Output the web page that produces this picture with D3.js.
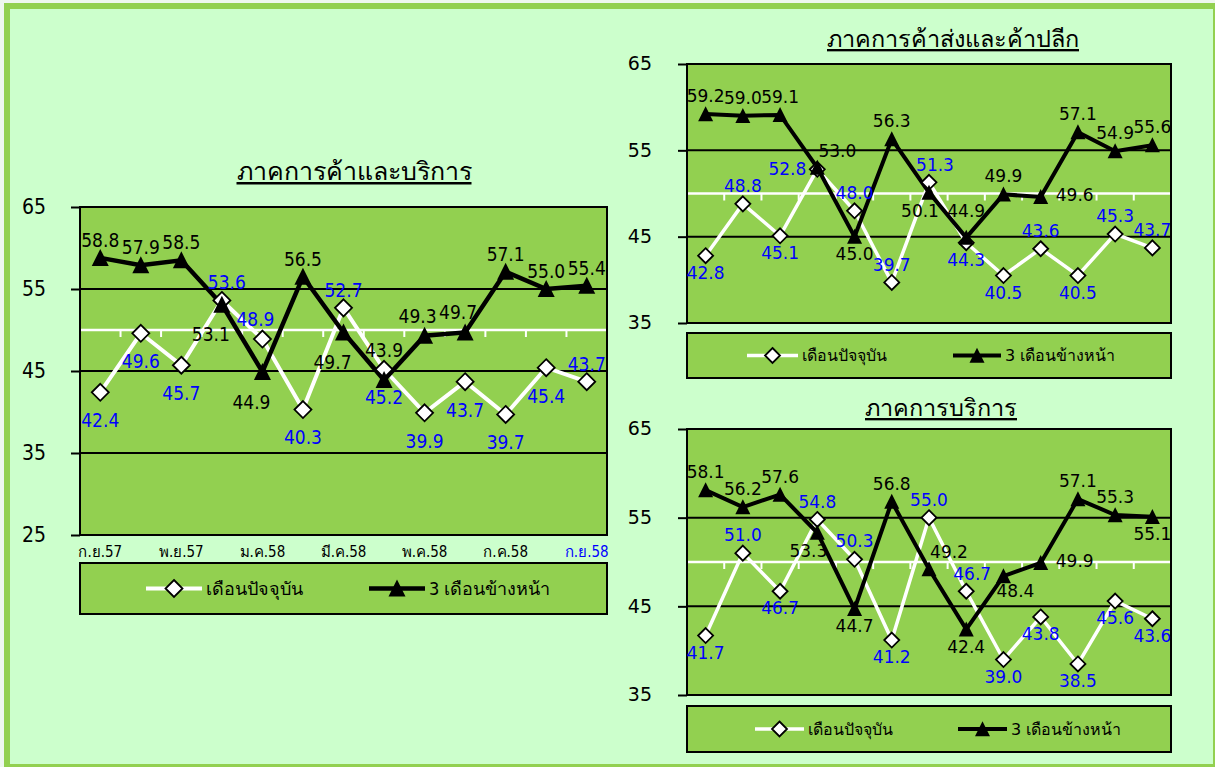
<!DOCTYPE html>
<html>
<head>
<meta charset="utf-8">
<script src="https://cdn.jsdelivr.net/npm/d3@7"></script>
<style>
  body { margin: 0; background: #eef7ee; }
  svg { display: block; }
</style>
</head>
<body>
<svg id="chart" width="1215" height="767"></svg>
<script>
// months Sep 57 .. Sep 58 (Thai short names)
const months = ['ก.ย.57', 'ต.ค.57', 'พ.ย.57', 'ธ.ค.57', 'ม.ค.58', 'ก.พ.58', 'มี.ค.58',
  'เม.ย.58', 'พ.ค.58', 'มิ.ย.58', 'ก.ค.58', 'ส.ค.58', 'ก.ย.58'];
const shownMonths = ['ก.ย.57', 'พ.ย.57', 'ม.ค.58', 'มี.ค.58', 'พ.ค.58', 'ก.ค.58', 'ก.ย.58'];
const seriesNames = ['เดือนปัจจุบัน', '3 เดือนข้างหน้า'];

// ภาคการค้าและบริการ
const tradeServiceNow = [42.4, 49.6, 45.7, 53.6, 48.9, 40.3, 52.7, 45.2, 39.9, 43.7, 39.7, 45.4, 43.7];
const tradeServiceAhead = [58.8, 57.9, 58.5, 53.1, 44.9, 56.5, 49.7, 43.9, 49.3, 49.7, 57.1, 55.0, 55.4];
const tradeServiceTicks = [25, 35, 45, 55, 65];

// ภาคการค้าส่งและค้าปลีก
const wholesaleNow = [42.8, 48.8, 45.1, 52.8, 48.0, 39.7, 51.3, 44.3, 40.5, 43.6, 40.5, 45.3, 43.7];
const wholesaleAhead = [59.2, 59.0, 59.1, 53.0, 45.0, 56.3, 50.1, 44.9, 49.9, 49.6, 57.1, 54.9, 55.6];

// ภาคการบริการ
const serviceNow = [41.7, 51.0, 46.7, 54.8, 50.3, 41.2, 55.0, 46.7, 39.0, 43.8, 38.5, 45.6, 43.6];
const serviceAhead = [58.1, 56.2, 57.6, 53.3, 44.7, 56.8, 49.2, 42.4, 48.4, 49.9, 57.1, 55.3, 55.1];
const rightTicks = [35, 45, 55, 65];

// where each data label sits relative to its marker
const tradeServiceNowPos = ['b', 'b', 'b', 'ar', 'al', 'b', 'a', 'b', 'b', 'b', 'b', 'b', 'a'];
const tradeServiceAheadPos = ['a', 'a', 'a', 'bl', 'bl', 'a', 'bl', 'aa', 'al', 'al', 'a', 'a', 'a'];
const wholesaleNowPos = ['b', 'a', 'b', 'l', 'a', 'a', 'ar', 'b', 'b', 'a', 'b', 'a', 'a'];
const wholesaleAheadPos = ['a', 'a', 'a', 'ar2', 'b', 'a', 'bl', 'aa', 'a', 'r', 'a', 'a', 'a'];
const serviceNowPos = ['b', 'a', 'b', 'a', 'a', 'b', 'a', 'ar', 'b', 'b', 'b', 'b', 'b'];
const serviceAheadPos = ['a', 'a', 'a', 'bl', 'b', 'a', 'ar2', 'b', 'br', 'r', 'a', 'a', 'b'];

const svg = d3.select('#chart');
const PLOT_FILL = '#92d050';

// background + frame
svg.append('rect')
  .attr('x', 7).attr('y', 6).attr('width', 1209).attr('height', 761)
  .attr('fill', '#ccffcc').attr('stroke', '#92d050').attr('stroke-width', 6);

const trianglePath = (s) => `M0,${-s * 1.05}L${s},${s * 0.95}L${-s},${s * 0.95}Z`;

const drawPanel = (cfg) => {
  let g = svg.append('g');
  let { x0, x1, y0, y1 } = cfg;

  let x = d3.scaleBand().domain(months).range([x0, x1]);
  let y = d3.scaleLinear().domain(cfg.domain).range([y1, y0]);
  let cx = (d) => x(d) + x.bandwidth() / 2;

  // title
  g.append('text')
    .attr('x', cfg.titleX).attr('y', cfg.titleY)
    .attr('text-anchor', 'middle')
    .attr('font-family', cfg.font)
    .attr('font-size', cfg.titleSize)
    .attr('text-decoration', 'underline')
    .attr('fill', '#000')
    .text(cfg.title);

  // plot area
  g.append('rect')
    .attr('x', x0).attr('y', y0).attr('width', x1 - x0).attr('height', y1 - y0)
    .attr('fill', PLOT_FILL);

  // gridlines
  g.selectAll('.grid')
    .data(cfg.ticks)
    .enter().append('line')
    .attr('x1', x0).attr('x2', x1)
    .attr('y1', d => y(d)).attr('y2', d => y(d))
    .attr('stroke', '#000').attr('stroke-width', 2);

  // y axis
  let yAxis = g.append('g')
    .attr('transform', `translate(${x0},0)`)
    .call(d3.axisLeft(y).tickValues(cfg.ticks).tickSize(9).tickPadding(cfg.yPad).tickFormat(d3.format('d')));
  yAxis.select('.domain').remove();
  yAxis.selectAll('line').attr('stroke', '#000').attr('stroke-width', 2);
  yAxis.selectAll('text')
    .attr('font-family', cfg.font)
    .attr('font-size', cfg.yFontSize)
    .attr('fill', '#000')
    .attr('dy', '0.3em');

  // white category axis crossing at 50
  let yc = y(50);
  g.append('line')
    .attr('x1', x0).attr('x2', x1).attr('y1', yc).attr('y2', yc)
    .attr('stroke', '#fff').attr('stroke-width', 2.5);
  g.selectAll('.ctick')
    .data(months.slice(1))
    .enter().append('line')
    .attr('x1', d => x(d)).attr('x2', d => x(d))
    .attr('y1', yc).attr('y2', yc + 7)
    .attr('stroke', '#fff').attr('stroke-width', 2);

  // plot border
  g.append('rect')
    .attr('x', x0).attr('y', y0).attr('width', x1 - x0).attr('height', y1 - y0)
    .attr('fill', 'none').attr('stroke', '#000').attr('stroke-width', 2);

  // x labels (only where given)
  if (cfg.xLabels) {
    g.selectAll('.xlab')
      .data(cfg.xLabels)
      .enter().append('text')
      .attr('x', d => cx(d))
      .attr('y', cfg.xLabelY)
      .attr('text-anchor', 'middle')
      .attr('font-family', cfg.font)
      .attr('font-size', cfg.xFontSize)
      .attr('fill', (d, i) => i === cfg.xLabels.length - 1 ? '#0000ff' : '#000')
      .text(d => d);
  }

  let line = d3.line().x((d, i) => cx(months[i])).y(d => y(d));

  // current month (white)
  g.append('path')
    .datum(cfg.now)
    .attr('d', line)
    .attr('fill', 'none').attr('stroke', '#fff').attr('stroke-width', cfg.lineW)
    .attr('stroke-linejoin', 'miter');

  // 3 months ahead (black)
  g.append('path')
    .datum(cfg.ahead)
    .attr('d', line)
    .attr('fill', 'none').attr('stroke', '#000').attr('stroke-width', cfg.lineW + 0.5)
    .attr('stroke-linejoin', 'miter');

  let ds = cfg.markerR;
  g.selectAll('.dia')
    .data(cfg.now)
    .enter().append('path')
    .attr('transform', (d, i) => `translate(${cx(months[i])},${y(d)})`)
    .attr('d', `M0,${-ds}L${ds},0L0,${ds}L${-ds},0Z`)
    .attr('fill', '#fff').attr('stroke', '#000').attr('stroke-width', 1.8);

  g.selectAll('.tri')
    .data(cfg.ahead)
    .enter().append('path')
    .attr('transform', (d, i) => `translate(${cx(months[i])},${y(d)})`)
    .attr('d', trianglePath(ds))
    .attr('fill', '#000');

  // data labels
  let off = cfg.offsets;
  const addLabels = (vals, pos, color) => {
    g.selectAll(null)
      .data(vals)
      .enter().append('text')
      .attr('x', (d, i) => cx(months[i]) + off[pos[i]][0])
      .attr('y', (d, i) => y(d) + off[pos[i]][1])
      .attr('dy', '0.36em')
      .attr('text-anchor', 'middle')
      .attr('font-family', cfg.font)
      .attr('font-size', cfg.labelSize)
      .attr('fill', color)
      .text(d => d.toFixed(1));
  };
  addLabels(cfg.ahead, cfg.aheadPos, '#000');
  addLabels(cfg.now, cfg.nowPos, '#0000ff');

  // legend
  let L = cfg.legend;
  g.append('rect')
    .attr('x', x0).attr('y', L.y0).attr('width', x1 - x0).attr('height', L.y1 - L.y0)
    .attr('fill', PLOT_FILL).attr('stroke', '#000').attr('stroke-width', 2);
  let ly = (L.y0 + L.y1) / 2;
  [0, 1].forEach(k => {
    let it = L.items[k];
    let lg = g.append('g');
    lg.append('line')
      .attr('x1', it[0]).attr('x2', it[1]).attr('y1', ly).attr('y2', ly)
      .attr('stroke', k === 0 ? '#fff' : '#000').attr('stroke-width', cfg.lineW + k * 0.5);
    let mx = (it[0] + it[1]) / 2;
    if (k === 0) {
      lg.append('path')
        .attr('transform', `translate(${mx},${ly})`)
        .attr('d', `M0,${-ds}L${ds},0L0,${ds}L${-ds},0Z`)
        .attr('fill', '#fff').attr('stroke', '#000').attr('stroke-width', 1.8);
    } else {
      lg.append('path')
        .attr('transform', `translate(${mx},${ly})`)
        .attr('d', trianglePath(ds))
        .attr('fill', '#000');
    }
    lg.append('text')
      .attr('x', it[1] + 4).attr('y', ly)
      .attr('dy', '0.35em')
      .attr('font-family', cfg.font)
      .attr('font-size', L.fontSize)
      .attr('fill', '#000')
      .text(seriesNames[k]);
  });
};

const leftOffsets = {
  a: [0, -18], aa: [0, -30], b: [0, 28], al: [-7, -20], ar: [5, -18],
  bl: [-11, 30], l: [-30, 0], r: [32, 0]
};
const rightOffsets = {
  a: [0, -18], aa: [0, -27], b: [0, 17], al: [-7, -18], ar: [6, -17], ar2: [20, -17],
  bl: [-9, 18], br: [12, 15], l: [-30, 0], r: [34, -2]
};

drawPanel({
  title: 'ภาคการค้าและบริการ', titleX: 354, titleY: 180, titleSize: 25,
  font: '"DejaVu Sans Condensed", "Noto Sans", sans-serif',
  x0: 80, x1: 607, y0: 207, y1: 535, domain: [25, 65], ticks: tradeServiceTicks,
  yPad: 25, yFontSize: 21,
  xLabels: shownMonths, xLabelY: 557, xFontSize: 15,
  now: tradeServiceNow, ahead: tradeServiceAhead,
  nowPos: tradeServiceNowPos, aheadPos: tradeServiceAheadPos,
  offsets: leftOffsets, labelSize: 19, lineW: 4, markerR: 8.5,
  legend: { y0: 563, y1: 614, items: [[146, 202], [369, 425]], fontSize: 18 }
});

drawPanel({
  title: 'ภาคการค้าส่งและค้าปลีก', titleX: 953, titleY: 47, titleSize: 23.5,
  font: '"DejaVu Sans", "Noto Sans", sans-serif',
  x0: 687, x1: 1171, y0: 64, y1: 323, domain: [35, 65], ticks: rightTicks,
  yPad: 26, yFontSize: 19,
  now: wholesaleNow, ahead: wholesaleAhead,
  nowPos: wholesaleNowPos, aheadPos: wholesaleAheadPos,
  offsets: rightOffsets, labelSize: 17, lineW: 3.5, markerR: 7.5,
  legend: { y0: 333, y1: 378, items: [[747, 798], [953, 1001]], fontSize: 16 }
});

drawPanel({
  title: 'ภาคการบริการ', titleX: 941, titleY: 416, titleSize: 23.5,
  font: '"DejaVu Sans", "Noto Sans", sans-serif',
  x0: 687, x1: 1171, y0: 429, y1: 695, domain: [35, 65], ticks: rightTicks,
  yPad: 26, yFontSize: 19,
  now: serviceNow, ahead: serviceAhead,
  nowPos: serviceNowPos, aheadPos: serviceAheadPos,
  offsets: rightOffsets, labelSize: 17, lineW: 3.5, markerR: 7.5,
  legend: { y0: 706, y1: 752, items: [[755, 804], [958, 1007]], fontSize: 16 }
});
</script>
</body>
</html>
